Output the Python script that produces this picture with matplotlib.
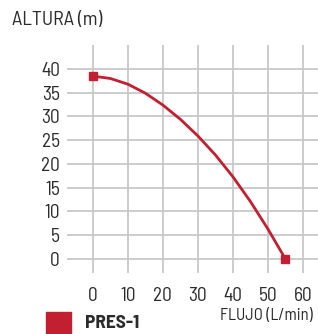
import matplotlib.pyplot as plt
import matplotlib.patches as mpatches

flow = [0, 5, 10, 15, 20, 25, 30, 35, 40, 45, 50, 55]
height = [38.5, 38.0, 36.8, 34.9, 32.4, 29.4, 25.9, 21.9, 17.3, 12.1, 6.3, 0.0]
xticks = [0, 10, 20, 30, 40, 50, 60]
yticks = [0, 5, 10, 15, 20, 25, 30, 35, 40]

red = "#c21f30"
txt = "#2b2b2b"
plt.rcParams["font.family"] = ["Barlow Semi Condensed", "DejaVu Sans"]

fig = plt.figure(figsize=(3.18, 3.34), dpi=100)
ax = fig.add_axes([67 / 318, 61 / 334, 251 / 318, 228 / 334])

ax.plot(flow, height, color=red, lw=2, solid_joinstyle="round", zorder=3)
ax.plot([flow[0], flow[-1]], [height[0], height[-1]], "s", color=red, ms=6, zorder=4)

ax.set_xlim(-7.4, 64.3)
ax.set_ylim(-2.95, 45.05)
ax.set_xticks(xticks)
ax.set_yticks(yticks)
ax.grid(color="#c8c8c8", lw=1.3)
ax.set_axisbelow(True)
ax.tick_params(length=0, labelsize=14, colors=txt)
ax.tick_params(axis="x", pad=10)
ax.tick_params(axis="y", pad=5)
for s in ax.spines.values():
    s.set_visible(False)

fig.text(12 / 318, 1 - 20 / 334, "ALTURA (m)", fontsize=14.5, color=txt, va="center", ha="left")
fig.text(313 / 318, 1 - 316 / 334, "FLUJO (L/min)", fontsize=12, color=txt, va="center", ha="right")
fig.patches.append(mpatches.Rectangle((46 / 318, 0), 25 / 318, 22 / 334,
                                      transform=fig.transFigure, color=red))
fig.text(85 / 318, 1 - 324 / 334, "PRES-1", fontsize=14, fontweight="bold", color=txt,
         va="center", ha="left")

fig.savefig("out.png", dpi=100)
